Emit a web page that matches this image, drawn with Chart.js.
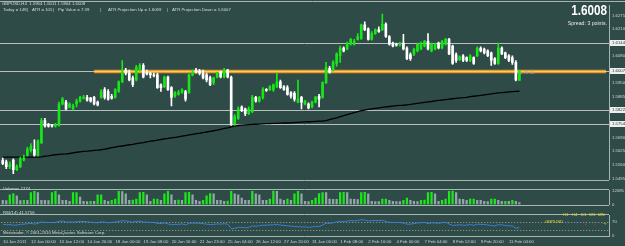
<!DOCTYPE html>
<html><head><meta charset="utf-8">
<script src="https://cdn.jsdelivr.net/npm/chart.js@4.4.1/dist/chart.umd.min.js"></script>
<style>
html,body{margin:0;padding:0;}
body{background:#2e4b47;width:625px;height:246px;overflow:hidden;font-family:"Liberation Sans",Arial,sans-serif;}
#wrap{position:relative;width:625px;height:246px;}
canvas{position:absolute;left:0;}
.t{position:absolute;white-space:pre;color:#d8dcdc;font-size:4.3px;line-height:1;}
</style></head><body><div id="wrap">
<canvas id="cMain" width="625" height="185" style="top:0"></canvas>
<canvas id="cVol" width="625" height="25" style="top:185px"></canvas>
<canvas id="cRsi" width="625" height="36" style="top:210px"></canvas>
<div class="t" style="left:2px;top:2px">GBPUSD,H4  1.5964 1.6011 1.5964 1.6008</div>
<div class="t" style="left:3px;top:8px">Today = 148</div>
<div class="t" style="left:27px;top:8px">|</div>
<div class="t" style="left:32px;top:8px">ATR = 105</div>
<div class="t" style="left:53px;top:8px">|</div>
<div class="t" style="left:58px;top:8px">Pip Value = 7.39</div>
<div class="t" style="left:100px;top:8px">|</div>
<div class="t" style="left:108px;top:8px">ATR Projection Up = 1.6069</div>
<div class="t" style="left:167px;top:8px">|</div>
<div class="t" style="left:172px;top:8px">ATR Projection Down = 1.6007</div>
<div class="t" style="left:560px;top:2px;width:47px;text-align:right;font-size:15px;font-weight:bold;color:#fff;transform:scaleX(0.78);transform-origin:right top;">1.6008</div>
<div class="t" style="left:540px;top:21px;width:67px;text-align:right;font-size:5.2px;color:#e8e8e8;">Spread: 3 points.</div>
<div class="t" style="left:520px;top:71px;color:#9aa8a6;">= 78:50</div>
<div class="t" style="left:3px;top:187px">Volumes 1774</div>
<div class="t" style="left:3px;top:211px">RSI(14) 41.5756</div>
<div class="t" style="left:3px;top:231px">Metatrader, © 2001-2010 MetaQuotes Software Corp.</div>
<div class="t" style="left:563px;top:213px;color:#e8d83a">H1</div>
<div class="t" style="left:572px;top:213px;color:#e8d83a">H4</div>
<div class="t" style="left:581px;top:213px;color:#e8d83a">D1</div>
<div class="t" style="left:589px;top:213px;color:#e8d83a">W1</div>
<div class="t" style="left:598px;top:213px;color:#e8d83a">MN</div>
<div class="t" style="left:545px;top:220px;color:#e8d83a">GBPUSD</div>
<div class="t" style="left:566px;top:219px;font-size:7px;color:#2a5cff;font-weight:bold">↑</div>
<div class="t" style="left:575px;top:219px;font-size:7px;color:#2a5cff;font-weight:bold">↑</div>
<div class="t" style="left:584px;top:219px;font-size:7px;color:#ff2020;font-weight:bold">↓</div>
<div class="t" style="left:593px;top:219px;font-size:7px;color:#ff2020;font-weight:bold">↓</div>
<div class="t" style="left:601px;top:219px;font-size:7px;color:#f0d020;font-weight:bold">→</div>
</div>
<script>
// ---------- data ----------
const opens = [1.5583,1.5574,1.5551,1.5583,1.5537,1.5551,1.5583,1.5606,1.5629,1.5634,
1.5606,1.5666,1.5772,1.5754,1.5749,1.5745,1.5749,1.5851,1.5860,1.5837,
1.5828,1.5851,1.5865,1.5879,1.5883,1.5879,1.5883,1.5860,1.5883,1.5920,
1.5911,1.5888,1.5883,1.5911,1.5957,1.6013,1.5999,1.5976,1.5966,1.6013,
1.6036,1.6003,1.5999,1.5990,1.5990,1.5943,1.5934,1.5980,1.5929,1.5888,
1.5897,1.5906,1.5911,1.5906,1.5990,1.6013,1.6008,1.5999,1.5990,1.5976,
1.5953,1.5980,1.6003,1.5980,1.6013,1.5980,1.5754,1.5782,1.5837,1.5828,
1.5805,1.5814,1.5883,1.5865,1.5883,1.5920,1.5920,1.5920,1.5934,1.5957,
1.5934,1.5929,1.5906,1.5902,1.5860,1.5883,1.5851,1.5851,1.5837,1.5860,
1.5888,1.5883,1.5953,1.6022,1.6013,1.6045,1.6082,1.6119,1.6114,1.6137,
1.6137,1.6160,1.6165,1.6230,1.6211,1.6160,1.6188,1.6207,1.6207,1.6234,
1.6174,1.6142,1.6137,1.6133,1.6142,1.6119,1.6087,1.6091,1.6105,1.6114,
1.6128,1.6151,1.6105,1.6114,1.6142,1.6119,1.6137,1.6160,1.6128,1.6087,
1.6063,1.6082,1.6073,1.6059,1.6073,1.6082,1.6119,1.6114,1.6105,1.6096,
1.6068,1.6045,1.6119,1.6096,1.6082,1.6073,1.6050,1.5964];
const highs = [1.5592,1.5583,1.5574,1.5588,1.5560,1.5597,1.5606,1.5643,1.5661,1.5680,
1.5680,1.5782,1.5782,1.5759,1.5754,1.5759,1.5860,1.5883,1.5869,1.5856,
1.5851,1.5874,1.5888,1.5893,1.5893,1.5883,1.5888,1.5865,1.5920,1.5929,
1.5920,1.5897,1.5925,1.5962,1.6059,1.6022,1.6013,1.5985,1.6036,1.6045,
1.6045,1.6013,1.6003,1.5999,1.5999,1.5948,1.5985,1.5985,1.5934,1.5911,
1.5916,1.5925,1.5916,1.5994,1.6013,1.6022,1.6017,1.6013,1.5999,1.5985,
1.5980,1.6003,1.6008,1.6022,1.6017,1.5985,1.5800,1.5837,1.5842,1.5832,
1.5837,1.5893,1.5888,1.5888,1.5929,1.5925,1.5939,1.5948,1.5999,1.5966,
1.5939,1.5939,1.5911,1.5911,1.5966,1.5888,1.5869,1.5856,1.5865,1.5888,
1.5897,1.5957,1.6050,1.6031,1.6059,1.6096,1.6128,1.6124,1.6147,1.6165,
1.6160,1.6188,1.6234,1.6244,1.6216,1.6197,1.6211,1.6220,1.6281,1.6239,
1.6179,1.6147,1.6142,1.6147,1.6184,1.6124,1.6096,1.6119,1.6142,1.6147,
1.6156,1.6188,1.6142,1.6142,1.6147,1.6156,1.6165,1.6165,1.6133,1.6096,
1.6082,1.6087,1.6077,1.6087,1.6077,1.6124,1.6124,1.6119,1.6110,1.6100,
1.6073,1.6142,1.6124,1.6100,1.6087,1.6082,1.6059,1.6011];
const lows = [1.5560,1.5541,1.5541,1.5518,1.5532,1.5546,1.5578,1.5601,1.5620,1.5601,
1.5601,1.5661,1.5740,1.5740,1.5740,1.5740,1.5745,1.5846,1.5823,1.5832,
1.5823,1.5837,1.5860,1.5874,1.5865,1.5860,1.5846,1.5842,1.5879,1.5874,
1.5869,1.5874,1.5879,1.5906,1.5953,1.5990,1.5962,1.5934,1.5962,1.6008,
1.5976,1.5990,1.5976,1.5980,1.5925,1.5911,1.5929,1.5916,1.5842,1.5883,
1.5893,1.5902,1.5865,1.5902,1.5985,1.5999,1.5990,1.5971,1.5957,1.5939,
1.5943,1.5976,1.5976,1.5976,1.5976,1.5749,1.5749,1.5777,1.5814,1.5795,
1.5800,1.5809,1.5860,1.5860,1.5874,1.5911,1.5916,1.5911,1.5929,1.5925,
1.5916,1.5893,1.5879,1.5865,1.5856,1.5828,1.5846,1.5828,1.5832,1.5856,
1.5837,1.5879,1.5948,1.5999,1.6008,1.6031,1.6050,1.6100,1.6110,1.6133,
1.6133,1.6156,1.6160,1.6202,1.6156,1.6156,1.6184,1.6193,1.6202,1.6170,
1.6133,1.6124,1.6128,1.6128,1.6110,1.6063,1.6059,1.6082,1.6100,1.6110,
1.6124,1.6110,1.6100,1.6110,1.6114,1.6114,1.6133,1.6087,1.6040,1.6050,
1.6059,1.6054,1.6054,1.6054,1.6040,1.6077,1.6100,1.6091,1.6077,1.6036,
1.6040,1.6040,1.6087,1.6068,1.6054,1.6040,1.5962,1.5964];
const closes = [1.5565,1.5551,1.5560,1.5537,1.5551,1.5588,1.5592,1.5634,1.5648,1.5606,
1.5675,1.5772,1.5745,1.5745,1.5745,1.5754,1.5851,1.5874,1.5828,1.5851,
1.5842,1.5865,1.5883,1.5883,1.5869,1.5865,1.5851,1.5846,1.5911,1.5883,
1.5874,1.5879,1.5920,1.5957,1.6003,1.5999,1.5966,1.5943,1.6026,1.6036,
1.5980,1.5994,1.5990,1.5985,1.5929,1.5929,1.5980,1.5920,1.5883,1.5906,
1.5906,1.5920,1.5874,1.5990,1.6003,1.6003,1.5999,1.5976,1.5966,1.5943,
1.5976,1.6003,1.5980,1.6013,1.5980,1.5754,1.5791,1.5828,1.5819,1.5805,
1.5828,1.5883,1.5865,1.5883,1.5920,1.5916,1.5934,1.5943,1.5957,1.5929,
1.5920,1.5897,1.5888,1.5874,1.5874,1.5860,1.5865,1.5832,1.5860,1.5883,
1.5874,1.5953,1.6026,1.6003,1.6050,1.6091,1.6119,1.6105,1.6142,1.6160,
1.6151,1.6174,1.6230,1.6207,1.6160,1.6188,1.6207,1.6197,1.6234,1.6174,
1.6137,1.6128,1.6133,1.6137,1.6114,1.6068,1.6068,1.6114,1.6137,1.6142,
1.6151,1.6114,1.6137,1.6137,1.6119,1.6151,1.6160,1.6091,1.6045,1.6059,
1.6077,1.6059,1.6059,1.6082,1.6045,1.6119,1.6105,1.6096,1.6082,1.6059,
1.6045,1.6119,1.6091,1.6073,1.6059,1.6050,1.5966,1.6008];
const maValues = [1.5597,1.5597,1.5597,1.5597,1.5597,1.5597,1.5597,1.5597,1.5597,1.5597,
1.5597,1.5598,1.5601,1.5603,1.5606,1.5608,1.5610,1.5611,1.5612,1.5614,
1.5617,1.5620,1.5622,1.5624,1.5625,1.5627,1.5629,1.5630,1.5632,1.5635,
1.5638,1.5642,1.5645,1.5648,1.5650,1.5653,1.5656,1.5658,1.5661,1.5664,
1.5666,1.5670,1.5673,1.5675,1.5678,1.5681,1.5684,1.5686,1.5689,1.5691,
1.5694,1.5697,1.5700,1.5703,1.5706,1.5709,1.5711,1.5714,1.5717,1.5720,
1.5723,1.5726,1.5730,1.5734,1.5737,1.5741,1.5745,1.5748,1.5750,1.5751,
1.5752,1.5753,1.5754,1.5755,1.5756,1.5757,1.5757,1.5758,1.5758,1.5759,
1.5760,1.5760,1.5761,1.5762,1.5763,1.5764,1.5765,1.5766,1.5767,1.5768,
1.5769,1.5769,1.5771,1.5776,1.5781,1.5785,1.5791,1.5795,1.5800,1.5805,
1.5810,1.5815,1.5819,1.5822,1.5825,1.5828,1.5830,1.5832,1.5835,1.5837,
1.5839,1.5841,1.5843,1.5844,1.5845,1.5847,1.5849,1.5852,1.5854,1.5856,
1.5859,1.5861,1.5863,1.5866,1.5868,1.5870,1.5872,1.5874,1.5876,1.5878,
1.5880,1.5881,1.5883,1.5886,1.5888,1.5890,1.5892,1.5895,1.5897,1.5899,
1.5902,1.5904,1.5905,1.5907,1.5909,1.5910,1.5911,1.5912];
const volumes = [3800,3600,8900,9900,7800,3500,3800,3700,10900,11900,
10800,3800,3700,3600,10900,11900,8800,3800,3700,2800,
10800,10900,6800,2800,2700,2900,2800,8800,8900,3800,
2800,3800,4800,12000,11800,9800,3800,3900,4800,10900,
11000,8800,2800,4800,4900,3800,9800,11900,8800,3800,
3900,3700,10900,11000,8800,3800,2800,3800,7800,10000,
9800,3800,3700,2800,3000,11900,9800,8800,5800,3800,
3700,11900,9800,8800,3800,3700,4800,12500,11900,4800,
3800,4800,3800,9800,11900,9800,2800,2700,3800,5800,
9900,10900,10800,4800,4700,4600,10900,11000,10800,4800,
4600,4500,10900,11000,9800,2800,2700,2600,4800,4900,
3800,2800,2700,2600,3800,5800,3800,2800,2700,3800,
3900,10900,11000,9800,2800,3800,4800,11900,12500,10900,
4800,4700,3800,4800,4900,3800,3700,2800,2700,4800,
4900,3800,2800,2900,2800,3800,2800,1774];
const rsiValues = [57,55,56,53,54,57,58,60,62,58,
63,69,66,66,66,67,72,73,68,69,
68,70,71,71,69,68,66,65,70,67,
65,66,69,72,75,74,71,68,72,73,
68,68,67,66,62,61,64,59,55,57,
57,59,55,62,63,63,62,60,58,56,
57,59,58,60,58,35,38,43,42,40,
43,49,48,50,53,53,54,55,56,53,
52,50,48,46,46,44,45,42,44,47,
46,54,63,61,65,69,72,71,73,75,
74,76,80,78,73,75,76,75,77,71,
67,66,66,66,63,58,58,61,64,65,
66,61,64,64,62,65,67,59,52,53,
55,53,53,56,52,58,57,56,54,51,
49,56,54,52,50,49,38,41.5756];
const timeLabels = ['10 Jan 2011','12 Jan 00:00','13 Jan 12:00','14 Jan 20:00','18 Jan 00:00','19 Jan 08:00',
'20 Jan 16:00','21 Jan 23:00','25 Jan 04:00','26 Jan 12:00','27 Jan 20:00','31 Jan 00:00','1 Feb 08:00',
'2 Feb 16:00','4 Feb 00:00','7 Feb 04:00','8 Feb 12:00','9 Feb 20:00','11 Feb 04:00'];
const barsPerTimeLabel = 8;
const totalSlots = 173;               // visible bar slots incl. empty right margin
const priceTicks = [1.6275,1.6210,1.6080,1.5950,1.5885,1.5690,1.5625,1.5560,1.5495];
const lineLevels = [1.6144,1.6007,1.5822,1.5754];
const trendLevel = 1.6007, trendStartBar = 26;
const volTicks = [0,12085];
const rsiTicks = [0,30,70,100];
const rsiLevels = [70,30];

// ---------- helpers ----------
const BULL = '#19e619', BEAR = '#ffffff', BG = '#2e4b47', FRAME = '#a9b3b1';
const FONT = {family:'Liberation Sans', size:4.3};
const slots = Array.from({length: totalSlots}, (_, i) =>
  (i % barsPerTimeLabel === 0 && timeLabels[i / barsPerTimeLabel]) ? timeLabels[i / barsPerTimeLabel] : '');
const bodies = opens.map((o, i) => [o, closes[i]]);
const wicks = lows.map((l, i) => [l, highs[i]]);
const candleColors = opens.map((o, i) => closes[i] > o ? BULL : BEAR);
const volColors = volumes.map((v, i) => (i > 0 && v > volumes[i - 1]) ? '#1ee61e' : '#93a6a8');
const fixW = s => { s.width = 16; };
const common = {responsive:false, animation:false, devicePixelRatio:1,
  plugins:{legend:{display:false}, tooltip:{enabled:false}}};

const framePlugin = {
  id:'frame',
  afterDraw(chart, args, opts) {
    const {ctx, chartArea:a} = chart;
    ctx.save(); ctx.strokeStyle = FRAME; ctx.lineWidth = 1;
    (opts.lines || []).forEach(k => {
      const y = k === 'top' ? Math.floor(a.top) - 0.5 : Math.ceil(a.bottom) + 0.5;
      ctx.beginPath(); ctx.moveTo(0, y); ctx.lineTo(a.right, y); ctx.stroke();
    });
    ctx.restore();
  }
};

const levelPlugin = {
  id:'levels',
  beforeDatasetsDraw(chart) {
    const {ctx, chartArea:a, scales:{x, y}} = chart;
    ctx.save();
    ctx.strokeStyle = '#b9bdbb'; ctx.lineWidth = 1;
    lineLevels.forEach(v => {
      const py = Math.round(y.getPixelForValue(v)) + 0.5;
      ctx.beginPath(); ctx.moveTo(0, py); ctx.lineTo(a.right, py); ctx.stroke();
    });
    const py = Math.round(y.getPixelForValue(trendLevel)) + 0.5;
    const x0 = x.getPixelForValue(trendStartBar);
    ctx.strokeStyle = '#e89a28'; ctx.lineWidth = 3.5;
    ctx.beginPath(); ctx.moveTo(x0, py); ctx.lineTo(a.right - 3, py); ctx.stroke();
    ctx.strokeStyle = '#ffc860'; ctx.lineWidth = 1;
    ctx.beginPath(); ctx.moveTo(x0, py); ctx.lineTo(a.right - 3, py); ctx.stroke();
    ctx.restore();
  },
  afterDraw(chart) {
    const {ctx, chartArea:a, scales:{y}} = chart;
    ctx.save();
    ctx.font = '4.3px "Liberation Sans"'; ctx.textBaseline = 'middle';
    lineLevels.forEach(v => {
      const py = Math.round(y.getPixelForValue(v));
      ctx.fillStyle = '#eef0ef'; ctx.fillRect(a.right + 1, py - 3, 15, 6);
      ctx.fillStyle = '#2a3a38'; ctx.fillText(v.toFixed(4), a.right + 3, py + 0.3);
    });
    // top frame
    ctx.strokeStyle = FRAME; ctx.beginPath(); ctx.moveTo(0, 1.5); ctx.lineTo(625, 1.5); ctx.stroke();
    ctx.restore();
  }
};

const rsiLevelPlugin = {
  id:'rsiLevels',
  beforeDatasetsDraw(chart) {
    const {ctx, chartArea:a, scales:{y}} = chart;
    ctx.save(); ctx.strokeStyle = '#9aa6a4'; ctx.lineWidth = 1; ctx.setLineDash([1, 2]);
    rsiLevels.forEach(v => {
      const py = Math.round(y.getPixelForValue(v)) + 0.5;
      ctx.beginPath(); ctx.moveTo(a.left, py); ctx.lineTo(a.right, py); ctx.stroke();
    });
    ctx.restore();
  }
};

const yAxisBase = (ticks) => ({
  position:'right', afterFit: fixW,
  grid:{display:false, drawTicks:false},
  border:{display:true, color:FRAME},
  ticks:{color:'#d0d6d4', font:FONT, padding:3, callback:v => v},
  afterBuildTicks(s) { s.ticks = ticks.map(v => ({value:v})); }
});

// ---------- main price chart ----------
const yMain = yAxisBase(priceTicks);
yMain.min = 1.5490; yMain.max = 1.6322;
yMain.ticks.callback = v => Number(v).toFixed(4);
new Chart(document.getElementById('cMain'), {
  type:'bar',
  data:{labels:slots, datasets:[
    {type:'bar', data:bodies, backgroundColor:candleColors, barThickness:2, minBarLength:1, grouped:false, order:1},
    {type:'bar', data:wicks, backgroundColor:candleColors, barThickness:1, grouped:false, order:2},
    {type:'line', data:maValues, borderColor:'#000000', borderWidth:1.3, pointRadius:0, tension:0, order:3}
  ]},
  options:Object.assign({}, common, {
    layout:{padding:{left:1, right:0, top:3, bottom:2}},
    plugins:Object.assign({}, common.plugins, {frame:{lines:['bottom']}}),
    scales:{x:{display:false, offset:true}, y:yMain}
  }),
  plugins:[levelPlugin, framePlugin]
});

// ---------- volume chart ----------
const yVol = yAxisBase(volTicks);
yVol.min = 0; yVol.max = 12700;
new Chart(document.getElementById('cVol'), {
  type:'bar',
  data:{labels:slots, datasets:[{data:volumes, backgroundColor:volColors, barThickness:1.6, grouped:false}]},
  options:Object.assign({}, common, {
    layout:{padding:{left:1, right:0, top:2, bottom:2}},
    plugins:Object.assign({}, common.plugins, {frame:{lines:['top','bottom']}}),
    scales:{x:{display:false, offset:true}, y:yVol}
  }),
  plugins:[framePlugin]
});

// ---------- RSI chart ----------
const yRsi = yAxisBase(rsiTicks);
yRsi.min = 0; yRsi.max = 100;
new Chart(document.getElementById('cRsi'), {
  type:'bar',
  data:{labels:slots, datasets:[
    {type:'line', data:rsiValues, borderColor:'#3a7fd6', borderWidth:1, pointRadius:0, tension:0}
  ]},
  options:Object.assign({}, common, {
    layout:{padding:{left:1, right:0, top:1, bottom:0}},
    plugins:Object.assign({}, common.plugins, {frame:{lines:['top','bottom']}}),
    scales:{
      x:{offset:true, afterFit(s){ s.height = 10; },
         grid:{display:false, drawTicks:false}, border:{display:false},
         ticks:{autoSkip:false, maxRotation:0, align:'start', padding:3, color:'#d0d6d4', font:FONT,
                callback(v){ return slots[v]; }}},
      y:yRsi
    }
  }),
  plugins:[rsiLevelPlugin, framePlugin]
});
</script>
</body></html>
